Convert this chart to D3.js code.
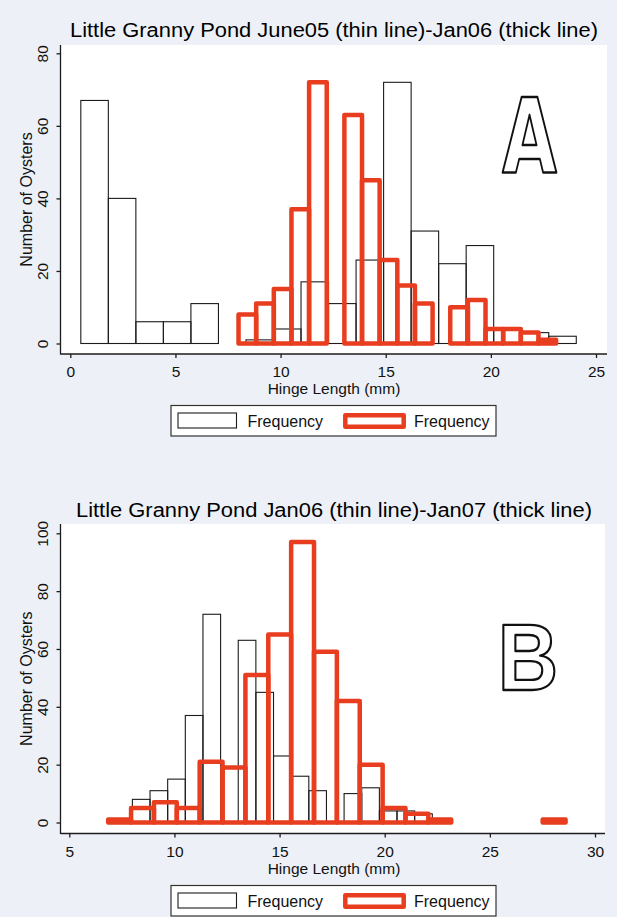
<!DOCTYPE html>
<html>
<head>
<meta charset="utf-8">
<script src="https://cdn.jsdelivr.net/npm/d3@7"></script>
<style>
  body { margin: 0; background: #edf1f7; }
  svg { display: block; }
</style>
</head>
<body>
<div id="chart"></div>
<script>
// Little Granny Pond oyster hinge length histograms

const FRAME_WIDTH = 617;
const FRAME_HEIGHT = 917;
const FONT = "'Liberation Sans', Arial, sans-serif";
const RED = "#e83d1e";
const INK = "#1c1c1c";

// histogram counts, one value per bin
const JUNE05 = [67, 40, 6, 6, 11, 0, 1, 4, 17, 11, 23, 72, 31, 22, 27, 4, 3, 2];
const JUNE05_BIN_START = 0.5;
const JUNE05_BIN_WIDTH = 1.309;

const JAN06 = [8, 11, 15, 37, 72, 0, 63, 45, 23, 16, 11, 0, 10, 12, 4, 4, 3, 1];
const JAN06_BIN_START = 8.0;
const JAN06_BIN_WIDTH = 0.839;

const JAN07 = [1, 5, 7, 5, 21, 19, 51, 65, 97, 59, 42, 20, 5, 3, 1, 0, 0, 0, 0, 1];
const JAN07_BIN_START = 6.85;
const JAN07_BIN_WIDTH = 1.0875;

// ticks
const X_TICKS_A = [0, 5, 10, 15, 20, 25];
const Y_TICKS_A = [0, 20, 40, 60, 80];
const X_TICKS_B = [5, 10, 15, 20, 25, 30];
const Y_TICKS_B = [0, 20, 40, 60, 80, 100];

const TITLE_A = "Little Granny Pond June05 (thin line)-Jan06 (thick line)";
const TITLE_B = "Little Granny Pond Jan06 (thin line)-Jan07 (thick line)";
const X_LABEL = "Hinge Length (mm)";
const Y_LABEL = "Number of Oysters";
const LEGEND_LABELS = ["Frequency", "Frequency"];

const FRAME = d3.select("#chart")
  .append("svg")
  .attr("width", FRAME_WIDTH)
  .attr("height", FRAME_HEIGHT);

// turn counts into bins
function toBins(counts, start, width) {
  return counts.map((v, i) => ({ x0: start + i * width, x1: start + (i + 1) * width, v: v }))
    .filter((d) => d.v > 0);
}

function drawPanel(cfg) {
  const top = cfg.top;
  const G = FRAME.append("g");

  const X_SCALE = d3.scaleLinear().domain(cfg.xDomain).range(cfg.xRange);
  const Y_SCALE = d3.scaleLinear().domain(cfg.yDomain).range(cfg.yRange);

  // white plot region
  G.append("rect")
    .attr("x", 61).attr("y", cfg.plotTop)
    .attr("width", cfg.axisRight - 61).attr("height", cfg.axisY - cfg.plotTop)
    .attr("fill", "#fff");

  // title
  G.append("text")
    .attr("x", 334).attr("y", top + 37)
    .attr("text-anchor", "middle")
    .attr("font-family", FONT).attr("font-size", 19.5)
    .attr("textLength", cfg.titleWidth).attr("lengthAdjust", "spacingAndGlyphs")
    .attr("fill", "#000")
    .text(cfg.title);

  // thin histogram
  G.selectAll(".thin")
    .data(cfg.thin)
    .enter()
    .append("rect")
    .attr("x", (d) => X_SCALE(d.x0))
    .attr("y", (d) => Y_SCALE(d.v))
    .attr("width", (d) => X_SCALE(d.x1) - X_SCALE(d.x0))
    .attr("height", (d) => Y_SCALE(0) - Y_SCALE(d.v))
    .attr("fill", "none")
    .attr("stroke", INK)
    .attr("stroke-width", 1.1);

  // thick histogram
  G.selectAll(".thick")
    .data(cfg.thick)
    .enter()
    .append("rect")
    .attr("x", (d) => X_SCALE(d.x0))
    .attr("y", (d) => Y_SCALE(d.v))
    .attr("width", (d) => X_SCALE(d.x1) - X_SCALE(d.x0))
    .attr("height", (d) => Y_SCALE(0) - Y_SCALE(d.v))
    .attr("fill", "none")
    .attr("stroke", RED)
    .attr("stroke-width", 4.5)
    .attr("stroke-linejoin", "round");

  // x axis
  const xAxis = G.append("g")
    .attr("transform", "translate(0," + cfg.axisY + ")")
    .call(d3.axisBottom(X_SCALE).tickValues(cfg.xTicks).tickSize(4).tickSizeOuter(0));
  xAxis.select(".domain").remove();
  xAxis.selectAll("line").attr("stroke", INK).attr("stroke-width", 1.3);
  xAxis.selectAll("text")
    .attr("y", 23).attr("dy", null)
    .attr("font-family", FONT).attr("font-size", 15.5).attr("fill", "#111");
  G.append("line")
    .attr("x1", 60.5).attr("x2", cfg.axisRight)
    .attr("y1", cfg.axisY).attr("y2", cfg.axisY)
    .attr("stroke", INK).attr("stroke-width", 1.3);

  // y axis
  const yAxis = G.append("g")
    .attr("transform", "translate(60.5,0)")
    .call(d3.axisLeft(Y_SCALE).tickValues(cfg.yTicks).tickSize(4).tickSizeOuter(0));
  yAxis.select(".domain").remove();
  yAxis.selectAll("line").attr("stroke", INK).attr("stroke-width", 1.3);
  yAxis.selectAll("text")
    .attr("x", null).attr("dy", null)
    .attr("text-anchor", "middle")
    .attr("transform", "translate(-13,0) rotate(-90)")
    .attr("font-family", FONT).attr("font-size", 15.5).attr("fill", "#111");
  G.append("line")
    .attr("x1", 60.5).attr("x2", 60.5)
    .attr("y1", cfg.plotTop).attr("y2", cfg.axisY + 0.6)
    .attr("stroke", INK).attr("stroke-width", 1.3);

  // axis titles
  G.append("text")
    .attr("x", 334).attr("y", cfg.axisY + 40)
    .attr("text-anchor", "middle")
    .attr("font-family", FONT).attr("font-size", 15.5).attr("fill", "#111")
    .text(X_LABEL);
  G.append("text")
    .attr("transform", "translate(32," + ((cfg.plotTop + cfg.axisY) / 2) + ") rotate(-90)")
    .attr("text-anchor", "middle")
    .attr("font-family", FONT).attr("font-size", 16).attr("fill", "#111")
    .text(Y_LABEL);

  // big panel letter
  G.append("text")
    .attr("transform", "translate(" + cfg.letter.x + "," + cfg.letter.y + ") scale(" + cfg.letter.sx + ",1)")
    .attr("text-anchor", "middle")
    .attr("font-family", cfg.letter.font).attr("font-weight", "bold")
    .attr("font-size", cfg.letter.size)
    .attr("fill", "#fff").attr("stroke", "#111").attr("stroke-width", 2.4)
    .attr("stroke-linejoin", "round")
    .text(cfg.letter.text);

  // legend
  const L = G.append("g").attr("transform", "translate(0," + top + ")");
  L.append("rect")
    .attr("x", 171).attr("y", 405.5).attr("width", 325).attr("height", 30.5)
    .attr("fill", "#fff").attr("stroke", "#333").attr("stroke-width", 1.2);
  L.append("rect")
    .attr("x", 178).attr("y", 413).attr("width", 58.5).attr("height", 15)
    .attr("fill", "none").attr("stroke", INK).attr("stroke-width", 1.1);
  L.append("rect")
    .attr("x", 345.3).attr("y", 415.3).attr("width", 58.4).attr("height", 11.4)
    .attr("fill", "none").attr("stroke", RED).attr("stroke-width", 4.5)
    .attr("stroke-linejoin", "round");
  L.selectAll(".lab")
    .data(LEGEND_LABELS)
    .enter()
    .append("text")
    .attr("x", (d, i) => i === 0 ? 247.5 : 414)
    .attr("y", 426.5)
    .attr("font-family", FONT).attr("font-size", 16).attr("fill", "#111")
    .text((d) => d);
}

drawPanel({
  top: 0,
  title: TITLE_A, titleWidth: 528,
  plotTop: 45, axisY: 354, axisRight: 607,
  xDomain: [0, 25], xRange: [70.3, 596],
  yDomain: [0, 80], yRange: [343.5, 53.3],
  xTicks: X_TICKS_A, yTicks: Y_TICKS_A,
  thin: toBins(JUNE05, JUNE05_BIN_START, JUNE05_BIN_WIDTH),
  thick: toBins(JAN06, JAN06_BIN_START, JAN06_BIN_WIDTH),
  letter: { text: "A", x: 529.5, y: 173, size: 103, sx: 0.76, font: "'Liberation Sans Narrow', 'DejaVu Sans Condensed', sans-serif" }
});

drawPanel({
  top: 480,
  title: TITLE_B, titleWidth: 516,
  plotTop: 524, axisY: 833.5, axisRight: 605,
  xDomain: [5, 30], xRange: [69.3, 595],
  yDomain: [0, 100], yRange: [822.5, 533.3],
  xTicks: X_TICKS_B, yTicks: Y_TICKS_B,
  thin: toBins(JAN06, JAN06_BIN_START, JAN06_BIN_WIDTH),
  thick: toBins(JAN07, JAN07_BIN_START, JAN07_BIN_WIDTH),
  letter: { text: "B", x: 528, y: 690, size: 95, sx: 0.88, font: "'Liberation Sans', Arial, sans-serif" }
});
</script>
</body>
</html>
